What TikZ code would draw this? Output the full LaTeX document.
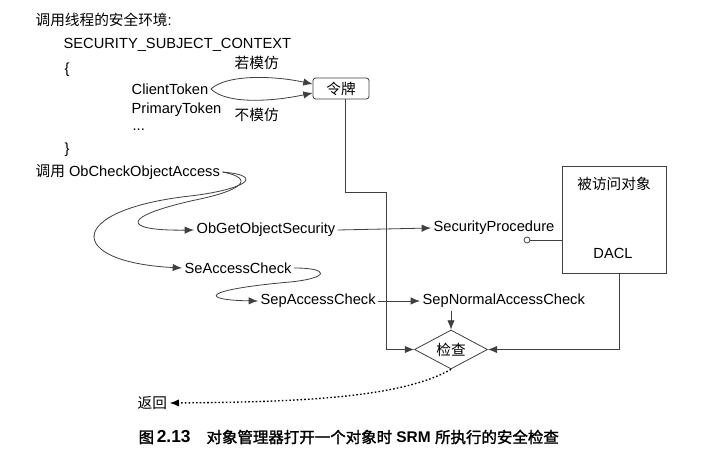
\documentclass[tikz,border=0pt]{standalone}
\usepackage{fontspec}
\setmainfont{Liberation Sans}
\newfontfamily\cjk{Noto Sans CJK SC}
\newfontfamily\cjkb[FakeBold=1.6]{Noto Sans CJK SC}
\newcommand\zh[1]{{\cjk #1}}
\usetikzlibrary{shapes.geometric,arrows.meta}
\begin{document}
\begin{tikzpicture}[x=0.75pt,y=-0.75pt,
  txt/.style={inner sep=0pt,outer sep=2pt,anchor=west,font=\fontsize{11}{13}\selectfont},
  ln/.style={draw=black!75,line width=0.6pt},
  arr/.style={ln,-{Latex[length=7pt,width=5.5pt]}},
  >={Latex[length=7pt,width=5.5pt]}]
\useasboundingbox[fill=white] (0,0) rectangle (726,460);

% header
\node[txt] (hdr) at (33,20) {\zh{调用线程的安全环境}:};
\node[txt] (ssc) at (61,45) {SECURITY\_SUBJECT\_CONTEXT};
\node[txt] (lb) at (62,70) {\{};
\node[txt] (ct) at (129,89) {ClientToken};
\node[txt] (pt) at (129,110) {PrimaryToken};
\node[txt] (dots) at (130,130) {...};
\node[txt] (rb) at (62,150) {\}};
\node[txt] (ifimp) at (232,63) {\zh{若模仿}};
\node[txt] (notimp) at (232,115) {\zh{不模仿}};

% token
\node[draw=black!75,line width=0.6pt,rounded corners=2pt,minimum width=42pt,minimum height=15.75pt,inner sep=0pt,
      font=\fontsize{11}{13}\selectfont] (token) at (341,88.5) {\zh{令牌}};
\draw[arr] (ct.east) .. controls (226,75) and (270,75) .. (token.171);
\draw[arr] (ct.east) .. controls (226,104) and (270,102) .. (token.189);

% calls
\node[txt] (obc) at (33,172) {\zh{调用} ObCheckObjectAccess};
\node[txt] (ogs) at (194,230) {ObGetObjectSecurity};
\node[txt] (sac) at (182,268) {SeAccessCheck};
\node[txt] (spac) at (258,301) {SepAccessCheck};
\node[txt] (sproc) at (431,228) {SecurityProcedure};
\node[txt] (snac) at (420,301) {SepNormalAccessCheck};

\draw[arr] (obc.east) .. controls (258,179) and (238,191) .. (200,199)
  .. controls (120,216) and (120,231) .. (ogs.west);
\draw[arr] (obc.east) .. controls (268,176) and (242,190) .. (190,196)
  .. controls (65,210) and (65,262) .. (sac.west);
\draw[arr] (sac.east) .. controls (330,268) and (330,278) .. (290,282)
  .. controls (200,290) and (200,300) .. (spac.west);

\draw[arr] (ogs.east) -- (sproc.west);
\draw[arr] (spac.east) -- (snac.west);

% object box
\node[draw=black!75,line width=0.6pt,minimum width=78pt,minimum height=80.25pt,inner sep=0pt] (obj) at (614,219.5) {};
\node[txt,anchor=center] (objt) at (614,184) {\zh{被访问对象}};
\node[txt,anchor=center] (dacl) at (613,253) {DACL};
\node[circle,draw=black!75,line width=0.6pt,minimum size=4.5pt,inner sep=0pt] (circ) at (527,240) {};
\draw[ln] (circ) -- (obj.west |- circ);

% check
\node[diamond,draw=black!75,line width=0.6pt,minimum width=54.75pt,minimum height=29.25pt,inner sep=0pt,aspect=1.9,
      font=\fontsize{11}{13}\selectfont] (check) at (451,349.5) {\zh{检查}};
\coordinate (tk1) at (345,192);
\coordinate (tk2) at (386,192);
\draw[arr] (token.south -| tk1) -- (tk1) -- (tk2) |- (check.west);
\coordinate (ob1) at (619,349.5);
\draw[arr] (obj.south -| ob1) |- (check.east);
\draw[arr] (snac.south -| check.north) -- (check.north);

% return
\node[txt] (ret) at (135,403) {\zh{返回}};
\draw[line width=1pt,dash pattern=on 1.2pt off 1.6pt,-{Latex[length=7pt,width=5.5pt]}]
  (check.south) .. controls (400,398) and (300,402) .. (ret.east);

% caption
\node[txt,font=\fontsize{11.6}{14}\selectfont] (cap) at (136,437)
  {{\cjkb 图}\hspace{2pt}{\fontsize{13}{14}\selectfont\rmfamily\bfseries 2.13}\hspace{12pt}{\cjkb 对象管理器打开一个对象时} {\rmfamily\bfseries SRM} {\cjkb 所执行的安全检查}};
\end{tikzpicture}
\end{document}
